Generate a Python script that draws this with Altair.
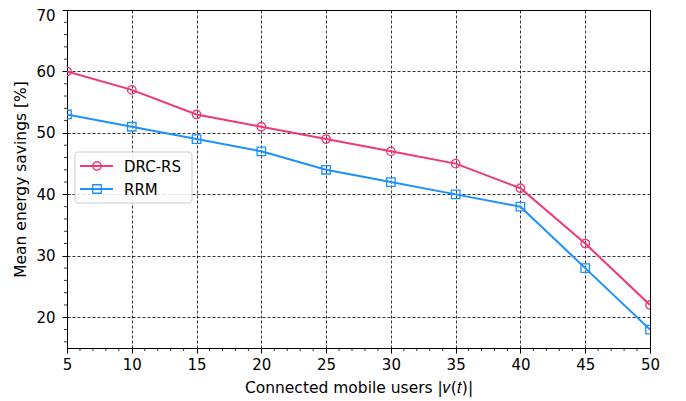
import altair as alt
import pandas as pd

users = [5, 10, 15, 20, 25, 30, 35, 40, 45, 50]
drc_rs = [60, 57, 53, 51, 49, 47, 45, 41, 32, 22]
rrm = [53, 51, 49, 47, 44, 42, 40, 38, 28, 18]
series = ["DRC-RS", "RRM"]
colors = ["#F0377A", "#1E90FF"]
shapes = ["circle", "square"]
x_major = [5, 10, 15, 20, 25, 30, 35, 40, 45, 50]
y_major = [20, 30, 40, 50, 60, 70]
x_minor = [v for v in range(6, 50) if v % 5]
y_minor = [v for v in range(16, 70, 2) if v % 10]

W, H = 583, 338
FONT = "DejaVu Sans"
FS = 15

df = pd.DataFrame({
    "users": users * 2,
    "value": drc_rs + rrm,
    "series": [series[0]] * len(users) + [series[1]] * len(users),
})

xs = alt.Scale(domain=[5, 50], nice=False, zero=False)
ys = alt.Scale(domain=[15, 70], nice=False, zero=False)
cs = alt.Scale(domain=series, range=colors)
ss = alt.Scale(domain=series, range=shapes)

x_axis = alt.Axis(values=x_major, title="Connected mobile users |𝜈(𝑡)|", format="d",
                  grid=True, gridDash=[3, 2], gridColor="black", gridWidth=0.8, gridOpacity=1,
                  tickSize=5, tickColor="black", domainColor="black", labelPadding=4,
                  titlePadding=8, labelFlush=False, titleFontSize=15.5)
y_axis = alt.Axis(values=y_major, title="Mean energy savings [%]", format="d",
                  grid=True, gridDash=[3, 2], gridColor="black", gridWidth=0.8, gridOpacity=1,
                  tickSize=5, tickColor="black", domainColor="black", labelPadding=7,
                  titlePadding=7, titleFontSize=15.5,
                  labelOffset={"condition": {"test": "datum.value === 70", "value": 5}, "value": 0})

base = alt.Chart(df)
lines = base.mark_line(strokeWidth=2, clip=True).encode(
    x=alt.X("users:Q", scale=xs, axis=x_axis),
    y=alt.Y("value:Q", scale=ys, axis=y_axis),
    color=alt.Color("series:N", scale=cs, legend=None),
    detail="series:N",
)
points = base.mark_point(filled=False, size=72, strokeWidth=1.3, opacity=1, clip=True).encode(
    x=alt.X("users:Q", scale=xs, axis=x_axis),
    y=alt.Y("value:Q", scale=ys, axis=y_axis),
    color=alt.Color("series:N", scale=cs, legend=None),
    shape=alt.Shape("series:N", scale=ss, legend=None),
)

xminor = alt.Chart(pd.DataFrame({"users": x_minor})).mark_rule(color="black", strokeWidth=0.8).encode(
    x=alt.X("users:Q", scale=xs, axis=x_axis), y=alt.value(H), y2=alt.value(H + 3))
yminor = alt.Chart(pd.DataFrame({"value": y_minor})).mark_rule(color="black", strokeWidth=0.8).encode(
    y=alt.Y("value:Q", scale=ys, axis=y_axis), x=alt.value(-3), x2=alt.value(0))

legend_layers = [
    alt.Chart(pd.DataFrame({"s": [""]})).mark_rect(
        fill="white", fillOpacity=0.85, stroke="#cccccc", strokeWidth=1, cornerRadius=3
    ).encode(x=alt.value(8), x2=alt.value(125), y=alt.value(142), y2=alt.value(193))
]
for i, name in enumerate(series):
    yy = 156 + 23 * i
    one = pd.DataFrame({"s": [name]})
    legend_layers.append(alt.Chart(one).mark_rule(color=colors[i], strokeWidth=2).encode(
        x=alt.value(13), x2=alt.value(46), y=alt.value(yy)))
    legend_layers.append(alt.Chart(one).mark_point(
        shape=shapes[i], filled=False, size=72, strokeWidth=1.3, color=colors[i], opacity=1
    ).encode(x=alt.value(30), y=alt.value(yy)))
    legend_layers.append(alt.Chart(one).mark_text(
        align="left", baseline="middle", font=FONT, fontSize=FS, color="black"
    ).encode(x=alt.value(57), y=alt.value(yy + 1), text="s:N"))

chart = alt.layer(lines, points, xminor, yminor, *legend_layers).properties(
    width=W, height=H,
    padding={"left": 59, "top": 2, "right": 28, "bottom": 50},
    autosize=alt.AutoSizeParams(type="none"),
    background="white",
).configure_view(stroke="black", strokeWidth=1).configure_axis(
    labelFont=FONT, titleFont=FONT, labelFontSize=FS, titleFontSize=FS,
    labelColor="black", titleColor="black", titleFontWeight="normal",
)

chart.save("out.html", embed_options={"renderer": "svg", "actions": False})
